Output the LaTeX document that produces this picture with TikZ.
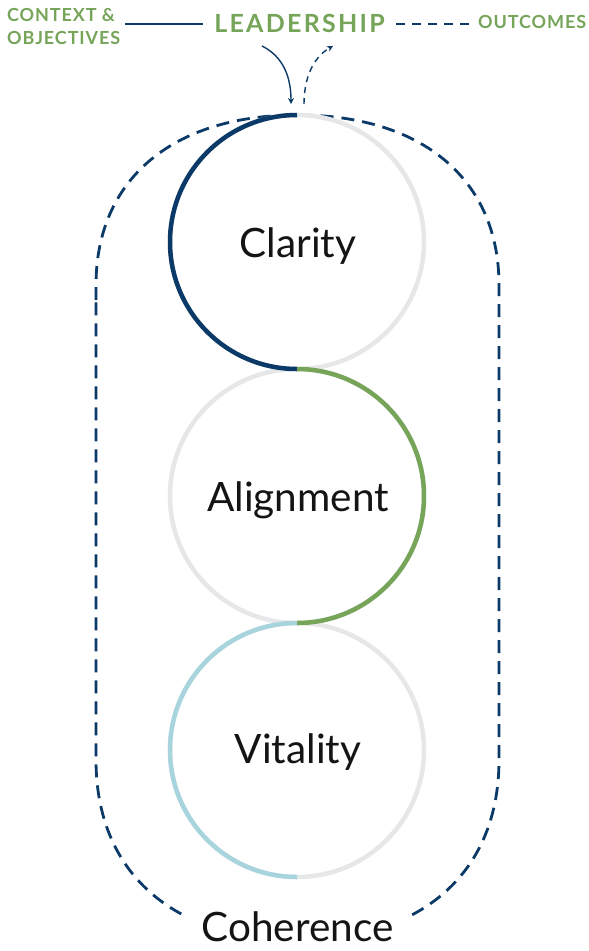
\documentclass[tikz,border=0pt]{standalone}
\usepackage{fontspec}
\setmainfont{Lato}
\newfontfamily\capfont[LetterSpace=5]{Lato}
\newfontfamily\bigcapfont[LetterSpace=9]{Lato}
\usetikzlibrary{arrows.meta}
\definecolor{navy}{HTML}{0B3A68}
\definecolor{leafgreen}{HTML}{76A55A}
\definecolor{paleblue}{HTML}{A8D4DE}
\definecolor{ringgray}{HTML}{E6E7E8}
\tikzset{
  ring/.style={line width=4.5pt, draw=ringgray},
  outerdash/.style={draw=navy, line width=2.8pt, dash pattern=on 13pt off 8pt},
  toplabel/.style={text=leafgreen, font=\capfont\bfseries\fontsize{18}{24}\selectfont, inner sep=0pt},
  mainlabel/.style={text=black!92, font=\fontsize{40.5}{48}\selectfont, inner sep=0pt, anchor=base},
  flowarrow/.style={draw=navy, line width=1.4pt, -{Stealth[length=6pt,width=6pt]}},
}
\begin{document}
\begin{tikzpicture}[x=1pt,y=-1pt]
\useasboundingbox (0,0) rectangle (589,951);
% outer coherence loop
\draw[outerdash] (96,300) -- (96,285) .. controls (96,180) and (172,115) .. (297.5,115)
  .. controls (423,115) and (499,180) .. (499,285) -- (499,760)
  .. controls (499,871.6) and (423,940) .. (297.5,940)
  .. controls (172,940) and (96,871.6) .. (96,760) -- cycle;
% rings
\coordinate (c1) at (297,242);
\coordinate (c2) at (297,496);
\coordinate (c3) at (297,750);
\draw[ring] (c1) circle[radius=127pt];
\draw[ring] (c2) circle[radius=127pt];
\draw[ring] (c3) circle[radius=127pt];
\draw[line width=4.5pt, navy] (297,115) arc[start angle=90, end angle=270, radius=127pt];
\draw[line width=4.5pt, leafgreen] (297,369) arc[start angle=90, end angle=-90, radius=127pt];
\draw[line width=4.5pt, paleblue] (297,623) arc[start angle=90, end angle=270, radius=127pt];
% ring labels
\node[mainlabel] (clarity) at (298,257) {Clarity};
\node[mainlabel] (alignment) at (298,511) {Alignment};
\node[mainlabel] (vitality) at (298,763) {Vitality};
\node[mainlabel, fill=white, inner xsep=14pt, inner ysep=2pt, text depth=0pt] (coherence) at (297.5,941) {Coherence};
% top labels
\node[toplabel, anchor=base west] (context) at (7,21) {CONTEXT \&};
\node[toplabel, anchor=base west] (objectives) at (7,44) {OBJECTIVES};
\node[text=leafgreen, font=\bigcapfont\bfseries\fontsize{25}{30}\selectfont, inner sep=0pt, anchor=base] (leadership) at (299.5,32) {LEADERSHIP};
\node[toplabel, anchor=base west] (outcomes) at (478,28) {OUTCOMES};
\coordinate (ls) at (125,24);
\coordinate (le) at (203,24);
\coordinate (ds) at (396,24);
\coordinate (de) at (469,24);
\draw[navy, line width=1.6pt] (ls) -- (le);
\draw[navy, line width=1.6pt, dash pattern=on 9pt off 7pt] (ds) -- (de);
% arrows
\coordinate (ain) at (262,46);
\coordinate (ainend) at (291,104);
\coordinate (aout) at (304,104);
\coordinate (aoutend) at (333,46);
\draw[flowarrow] (ain) .. controls (284,57) and (291,78) .. (ainend);
\draw[flowarrow, dash pattern=on 6pt off 5pt] (aout) .. controls (304,80) and (312,58) .. (aoutend);
\end{tikzpicture}
\end{document}
